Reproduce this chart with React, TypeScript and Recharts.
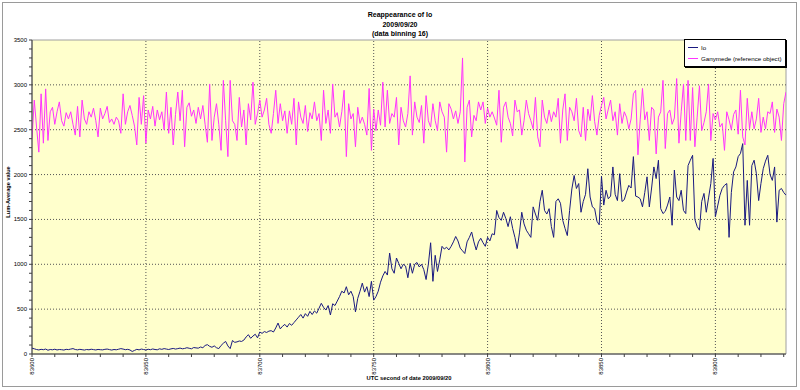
import React from 'react';
import { LineChart, Line, XAxis, YAxis, CartesianGrid, ReferenceLine, ReferenceArea } from 'recharts';

// --- DATA (one sample per second, starting at 83600 UTC s) ---
const START_SECOND = 83600;
const END_SECOND = 83931;

const ioValues = [
  65, 58, 50, 45, 52, 48, 55, 42, 50, 47,
  53, 45, 50, 48, 44, 52, 49, 55, 60, 50,
  46, 52, 48, 44, 50, 47, 53, 49, 45, 51,
  48, 46, 52, 55, 49, 44, 50, 47, 53, 60,
  55, 48, 52, 45, 28, 40, 52, 46, 55, 50,
  45, 53, 48, 56, 50, 47, 58, 52, 60, 55,
  50, 57, 62, 55, 60, 66, 58, 62, 70, 64,
  58, 72, 68, 65, 78, 70, 95, 104, 85, 75,
  90, 70, 60, 95, 120, 140, 90, 60, 150, 130,
  135, 145, 140, 155, 190, 215, 175, 200, 220, 180,
  245, 230, 250, 240, 255, 260, 245, 290, 345, 280,
  310, 330, 300, 340, 320, 350, 380, 410, 440, 400,
  450, 420, 475, 440, 480, 455, 510, 565, 520, 490,
  540, 435, 560, 540, 590, 640, 700, 680, 750, 660,
  700, 640, 470, 620, 700, 790, 690, 750, 640, 810,
  600, 640, 700, 800, 870, 920, 880, 1125, 950, 900,
  1070, 1010, 950, 1000, 980, 850, 1010, 900, 1000, 1020,
  970, 1000, 940, 830, 1000, 1240, 810, 1100, 920, 1050,
  1200, 1170, 1190, 1160, 1200, 1250, 1310, 1260, 1180, 1150,
  1120, 1250, 1300, 1360, 1250, 1160, 1250, 1290, 1240, 1200,
  1300, 1260, 1340, 1330, 1600, 1520, 1490, 1580, 1510, 1420,
  1530, 1400, 1300, 1175, 1350, 1580, 1450, 1380, 1340, 1300,
  1640, 1560, 1490, 1700, 1825, 1600, 1560, 1620, 1420, 1300,
  1700, 1730, 1680, 1490, 1400, 1320, 1600, 1840, 1990, 1845,
  1900, 1580, 1700, 1780, 2065, 1750, 1640, 1620, 1480, 1440,
  1980, 1660, 1825, 1730, 1760, 2085, 1780, 1710, 2010, 1700,
  1720, 1805, 1880, 1850, 2200, 1760, 1750, 1730, 1640, 1800,
  1975, 1640, 1850, 2085, 1955, 2160, 1620, 1565, 1590, 1660,
  1750, 1435, 2050, 1750, 1710, 1825, 1600, 1565, 2100, 2160,
  2215, 1500, 1420, 1380, 1700, 1790, 1580, 1740, 1900, 2180,
  1530, 1650, 1770, 1845, 1880, 1900, 1300, 1800, 2030, 2085,
  2200, 2235, 2345, 1435, 1935, 1435, 2100, 2160, 2010, 1710,
  1900, 2065, 2150, 2215, 2000, 1935, 2085, 1470, 1825, 1845,
  1800, 1770,
];

const ganymedeValues = [
  2400, 2830, 2530, 2250, 2900, 2350, 2955, 2380, 2700, 2750,
  2560, 2700, 2810, 2600, 2540, 2690, 2620, 2700, 2560, 2440,
  2760, 2420, 2830, 2620, 2560, 2700, 2640, 2740, 2600, 2420,
  2740, 2620, 2680, 2760, 2580, 2620, 2560, 2640, 2600, 2460,
  2900, 2560, 2700, 2770, 2660, 2540, 2330, 2860, 2560, 2880,
  2350, 2720, 2620, 2760, 2540, 2720, 2610, 2700, 2500, 2920,
  2460, 2750, 2330, 2670, 2920, 2600, 2940, 2310, 2750, 2800,
  2650, 2720, 2570, 2750, 2620, 2770, 2560, 2360, 3010, 2380,
  2640, 2790, 2560, 2270, 3050, 2600, 2200, 3050, 2600, 2560,
  2380, 2860, 2530, 2720, 2330, 2790, 2610, 3030, 2560, 2680,
  2830, 2640, 2720, 2850, 2560, 2460, 2680, 2940, 2570, 2790,
  2600, 2710, 2460, 2710, 2560, 2850, 2330, 2810, 2640, 2570,
  2770, 2480, 2690, 2620, 2810, 2600, 2680, 2380, 2940, 2570,
  2720, 2460, 3010, 2640, 2690, 2530, 2700, 2940, 2200, 2790,
  2620, 2680, 2310, 2750, 2570, 2640, 2560, 2440, 2960, 2270,
  2730, 2490, 2720, 2550, 3030, 2530, 2940, 2570, 2680, 2640,
  2860, 2330, 2750, 2600, 2530, 2680, 3100, 2440, 2810, 2640,
  2580, 2770, 2350, 2880, 2600, 2530, 2790, 2600, 2490, 2810,
  2700, 2640, 2250, 2790, 2730, 2620, 2710, 2570, 2700, 3300,
  2140, 2750, 2830, 2420, 2660, 2600, 2810, 2720, 2810, 2570,
  2740, 2640, 2700, 2630, 2550, 2940, 2360, 2750, 2810, 2640,
  2570, 2430, 2830, 2700, 2720, 2440, 2600, 2830, 2680, 2600,
  2510, 2860, 2420, 2310, 2830, 2640, 2570, 2720, 2590, 2700,
  2640, 2850, 2350, 2720, 2900, 2380, 2750, 2700, 2600, 2850,
  2490, 2420, 2750, 2380, 2730, 2600, 2880, 2590, 2440, 2660,
  2770, 2860, 2620, 2730, 2830, 2600, 2700, 2440, 2790, 2570,
  2700, 2640, 2510, 2620, 2900, 2940, 2220, 2610, 2960, 2610,
  2700, 2380, 2750, 2720, 2230, 2640, 2700, 3050, 2290, 2680,
  2720, 2560, 2630, 3070, 2350, 2700, 3010, 2380, 3050, 2380,
  2970, 2310, 2640, 2990, 2490, 2580, 2700, 3010, 2380, 2680,
  2610, 2700, 2530, 2570, 2270, 2700, 2610, 2500, 2670, 2720,
  2450, 2940, 2420, 2330, 2850, 2510, 2700, 2510, 2620, 2850,
  2470, 2640, 2510, 2700, 2680, 2810, 2470, 2730, 2640, 2380,
  2790, 2920,
];

const xMajorTicks = [83600, 83650, 83700, 83750, 83800, 83850, 83900];
const xMinorTicks = Array.from({ length: 34 }, (_, i) => START_SECOND + i * 10);
const yMajorTicks = [0, 500, 1000, 1500, 2000, 2500, 3000, 3500];
const yMinorTicks = Array.from({ length: 36 }, (_, i) => i * 100);

const chartData = ioValues.map((v, i) => ({
  t: START_SECOND + i,
  io: v,
  ganymede: ganymedeValues[i],
}));

const FONT = '"Liberation Sans", Arial, sans-serif';
const IO_COLOR = '#1a1a80';
const GANY_COLOR = '#FF33FF';
const GRID_COLOR = '#555555';

const XTick = (props: any) => {
  const { x, y, payload } = props;
  if (payload.value % 50 !== 0) return null;
  return (
    <text
      transform={`translate(${x},${y}) rotate(-90)`}
      textAnchor="end"
      dy={2}
      fontSize={6}
      fontFamily={FONT}
      fill="#000"
    >
      {payload.value}
    </text>
  );
};

const YTick = (props: any) => {
  const { x, y, payload } = props;
  if (payload.value % 500 !== 0) return null;
  return (
    <text x={x} y={y} dy={2} textAnchor="end" fontSize={6} fontFamily={FONT} fill="#000">
      {payload.value}
    </text>
  );
};

const LegendBox = () => (
  <div
    style={{
      position: 'absolute',
      left: 684,
      top: 39,
      background: '#fff',
      border: '1px solid #000',
      boxShadow: '1px 1px 0 #000',
      width: 102,
      height: 28,
      fontFamily: FONT,
      fontSize: 6.2,
      color: '#000',
      boxSizing: 'border-box',
      padding: '2px 0 0 3px',
      whiteSpace: 'nowrap',
    }}
  >
    <div style={{ display: 'flex', alignItems: 'center', height: 10 }}>
      <span style={{ display: 'inline-block', width: 10, height: 1, background: IO_COLOR, marginRight: 3 }} />
      Io
    </div>
    <div style={{ display: 'flex', alignItems: 'center', height: 12 }}>
      <span style={{ display: 'inline-block', width: 10, height: 1, background: GANY_COLOR, marginRight: 3 }} />
      Ganymede (reference object)
    </div>
  </div>
);

const App: React.FC = () => {
  return (
    <div style={{ position: 'absolute', left: 0, top: 0, width: 800, height: 390, background: '#fff' }}>
      <div
        style={{
          position: 'absolute', left: 2, top: 2, width: 795, height: 385,
          border: '1px solid #9a9a9a', boxSizing: 'border-box',
        }}
      />
      <div
        style={{
          position: 'absolute', left: 0, top: 10, width: 800, textAlign: 'center',
          fontFamily: FONT, fontWeight: 'bold', fontSize: 7, lineHeight: '9.5px', color: '#000',
        }}
      >
        <div>Reappearance of Io</div>
        <div>2009/09/20</div>
        <div>(data binning 16)</div>
      </div>
      <div
        style={{
          position: 'absolute', left: 32, top: 375, width: 754, textAlign: 'center',
          fontFamily: FONT, fontWeight: 'bold', fontSize: 5.8, color: '#000',
        }}
      >
        UTC second of date 2009/09/20
      </div>
      <div style={{ position: 'absolute', left: 8, top: 192, width: 0, height: 0 }}>
        <div
          style={{
            position: 'absolute', left: 0, top: 0, transform: 'translate(-50%, -50%) rotate(-90deg)',
            whiteSpace: 'nowrap', fontFamily: FONT, fontWeight: 'bold', fontSize: 5.6, color: '#000',
          }}
        >
          Lum-Average value
        </div>
      </div>
      <div style={{ position: 'absolute', left: 0, top: 0 }}>
        <LineChart
          width={800}
          height={390}
          data={chartData}
          margin={{ top: 40, right: 14, bottom: 6, left: 2 }}
        >
          <CartesianGrid fill="#FFFFCC" horizontal={false} vertical={false} />
          {yMajorTicks.slice(1, -1).map((v) => (
            <ReferenceLine key={`y${v}`} y={v} stroke={GRID_COLOR} strokeDasharray="1 2" />
          ))}
          {xMajorTicks.slice(1).map((v) => (
            <ReferenceLine key={`x${v}`} x={v} stroke={GRID_COLOR} strokeDasharray="1 2" />
          ))}
          <ReferenceArea
            x1={START_SECOND}
            x2={END_SECOND}
            y1={0}
            y2={3500}
            fill="none"
            stroke="#a0a0a0"
          />
          <XAxis
            dataKey="t"
            type="number"
            domain={[START_SECOND, END_SECOND]}
            allowDataOverflow
            ticks={xMinorTicks}
            interval={0}
            tick={<XTick />}
            tickSize={3}
            tickMargin={1}
            height={30}
            stroke="#404040"
          />
          <YAxis
            type="number"
            domain={[0, 3500]}
            ticks={yMinorTicks}
            interval={0}
            tick={<YTick />}
            tickSize={3}
            tickMargin={2}
            width={30}
            stroke="#404040"
          />
          <Line
            type="linear"
            dataKey="io"
            name="Io"
            stroke={IO_COLOR}
            strokeWidth={1}
            dot={false}
            isAnimationActive={false}
          />
          <Line
            type="linear"
            dataKey="ganymede"
            name="Ganymede (reference object)"
            stroke={GANY_COLOR}
            strokeWidth={1}
            dot={false}
            isAnimationActive={false}
          />
        </LineChart>
      </div>
      <LegendBox />
    </div>
  );
};

export default App;
